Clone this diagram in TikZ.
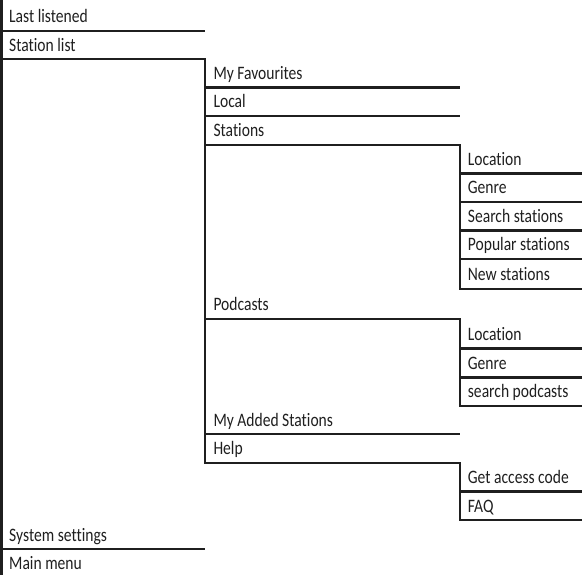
\documentclass[tikz,border=0pt]{standalone}
\usepackage{fontspec}
\setmainfont[FakeStretch=0.82,Ligatures=NoCommon,RawFeature={-liga}]{Carlito}
\begin{document}
\begin{tikzpicture}[x=1pt,y=-1pt,
  menu/.style={font=\fontsize{19}{19}\selectfont, anchor=base west, inner sep=0pt, text=black!88},
  rule/.style={draw=black!88, line width=2.2pt}]
\useasboundingbox (0,0) rectangle (582,575);
\def\xa{1.5}\def\xb{205}\def\xc{460}\def\xr{583}
\def\ta{9}\def\tb{213.3}\def\tc{467.7}
% level 1 texts
\node[menu] (lastlistened) at (\ta,22.7) {Last listened};
\node[menu] (stationlist) at (\ta,51.3) {Station list};
\node[menu] (systemsettings) at (\ta,541) {System settings};
\node[menu] (mainmenu) at (\ta,569.7) {Main menu};
% level 2 texts
\node[menu] (favourites) at (\tb,79.5) {My Favourites};
\node[menu] (local) at (\tb,108) {Local};
\node[menu] (stations) at (\tb,137) {Stations};
\node[menu] (podcasts) at (\tb,311) {Podcasts};
\node[menu] (added) at (\tb,426.3) {My Added Stations};
\node[menu] (help) at (\tb,454.7) {Help};
% level 3 texts
\node[menu] (slocation) at (\tc,165.5) {Location};
\node[menu] (sgenre) at (\tc,194) {Genre};
\node[menu] (ssearch) at (\tc,222.5) {Search stations};
\node[menu] (spopular) at (\tc,251) {Popular stations};
\node[menu] (snew) at (\tc,281) {New stations};
\node[menu] (plocation) at (\tc,340.5) {Location};
\node[menu] (pgenre) at (\tc,369.5) {Genre};
\node[menu] (psearch) at (\tc,398) {search podcasts};
\node[menu] (hcode) at (\tc,483.5) {Get access code};
\node[menu] (hfaq) at (\tc,512) {FAQ};
% rules
\draw[rule] (\xa,0) -- (\xa,575);
\draw[rule] (0,30.7) -- (\xb,30.7);
\draw[rule] (\xa,59.3) -- (\xb,59.3) -- (\xb,462.7) -- (\xc,462.7) -- (\xc,520) -- (\xr,520);
\draw[rule] (0,549) -- (\xb,549);
\draw[rule] (\xb,87.5) -- (\xc,87.5);
\draw[rule] (\xb,116) -- (\xc,116);
\draw[rule] (\xb,145) -- (\xc,145) -- (\xc,289) -- (\xr,289);
\draw[rule] (\xb,319) -- (\xc,319) -- (\xc,406) -- (\xr,406);
\draw[rule] (\xb,434.3) -- (\xc,434.3);
\foreach \y in {173.5,202,230.5,259,348.5,377.5,491.5}
  \draw[rule] (\xc,\y) -- (\xr,\y);
\end{tikzpicture}
\end{document}
